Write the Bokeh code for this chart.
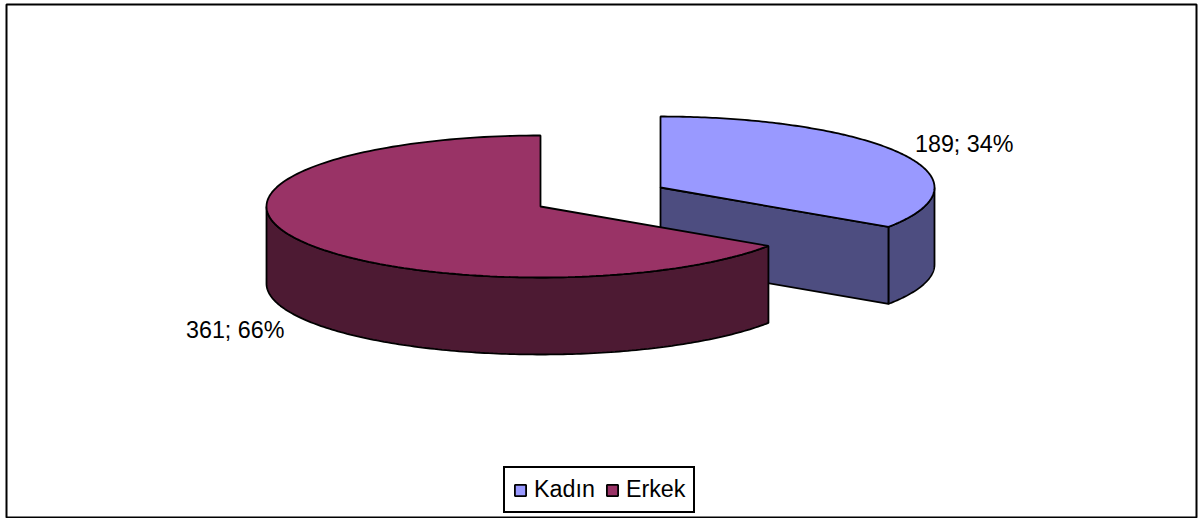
import numpy as np
from bokeh.plotting import figure
from bokeh.models import Legend, LegendItem
from bokeh.embed import file_html
from bokeh.resources import INLINE

categories = ["Kadın", "Erkek"]
values = [189, 361]
top_colors = ["#9999FF", "#993366"]
side_colors = ["#4D4D80", "#4D1A33"]

W, H = 1198, 518
ML, MR, MT, MB = 6, 2, 4, 1
RX, RY, DEPTH = 274, 71, 77
CENTERS = [(660, 187), (540, 206)]
FONT = "Liberation Sans"

total = sum(values)
split = 2 * np.pi * values[0] / total


def arc(c, a0, a1, dy=0):
    t = np.linspace(a0, a1, 160)
    return c[0] + RX * np.sin(t), c[1] - RY * np.cos(t) + dy


p = figure(width=W, height=H, output_backend="svg", toolbar_location=None,
           x_range=(ML, W - MR), y_range=(H - MB, MT),
           min_border_left=ML, min_border_right=MR, min_border_top=MT, min_border_bottom=MB,
           x_axis_type=None, y_axis_type=None)
p.grid.visible = False
p.outline_line_color = "black"
p.outline_line_width = 2
p.background_fill_color = "white"

LW = 1.8
c = CENTERS[0]
ax, ay = arc(c, np.pi / 2, split)
bx, by = arc(c, split, np.pi / 2, DEPTH)
p.patch(np.r_[ax, bx], np.r_[ay, by], fill_color=side_colors[0], line_color="black", line_width=LW)
ex, ey = arc(c, split, split)
p.patch([c[0], ex[0], ex[0], c[0]], [c[1], ey[0], ey[0] + DEPTH, c[1] + DEPTH],
        fill_color=side_colors[0], line_color="black", line_width=LW)
tx, ty = arc(c, 0, split)
r0 = p.patch(np.r_[c[0], tx], np.r_[c[1], ty], fill_color=top_colors[0], line_color="black", line_width=LW)

c = CENTERS[1]
ax, ay = arc(c, split, 1.5 * np.pi)
bx, by = arc(c, 1.5 * np.pi, split, DEPTH)
p.patch(np.r_[ax, bx], np.r_[ay, by], fill_color=side_colors[1], line_color="black", line_width=LW)
tx, ty = arc(c, split, 2 * np.pi)
r1 = p.patch(np.r_[c[0], tx], np.r_[c[1], ty], fill_color=top_colors[1], line_color="black", line_width=LW)

labels = [f"{v}; {round(100 * v / total)}%" for v in values]
p.text([914.5, 185.5], [143, 329], text=labels, text_font={"value": FONT}, text_font_size="23.3px",
       text_color="black", text_align="left", text_baseline="middle")

legend = Legend(items=[LegendItem(label=categories[0], renderers=[r0]),
                       LegendItem(label=categories[1], renderers=[r1])],
                orientation="horizontal", location=(497, 4),
                glyph_width=14, glyph_height=14, label_text_font=FONT, label_text_font_size="23.3px",
                label_text_color="black", spacing=10, padding=8, margin=0,
                label_standoff=7, border_line_color="black", border_line_width=2, border_line_alpha=1,
                background_fill_color="white", background_fill_alpha=1)
p.add_layout(legend, "center")

open("out.html", "w").write(file_html(p, INLINE))
